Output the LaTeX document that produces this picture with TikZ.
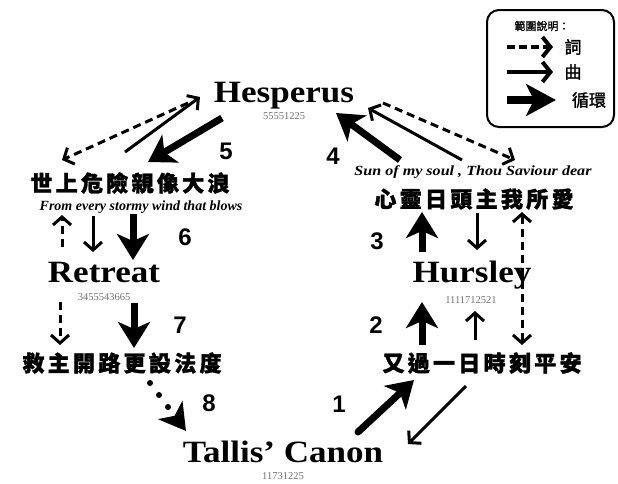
\documentclass[tikz,border=0pt]{standalone}
\usepackage{fontspec}
\setmainfont{Liberation Serif}
\newfontfamily\cjk{Noto Sans CJK TC}[FakeBold=1.5, LetterSpace=15]
\newfontfamily\cjkb{Noto Sans CJK TC}[FakeBold=1.5]
\newfontfamily\stepfont{Liberation Sans}
\usetikzlibrary{arrows.meta}
\newcommand{\widen}[1]{\scalebox{1.13}[1]{#1}}
\tikzset{
  x=1pt, y=-1pt,
  tunename/.style={font=\bfseries\fontsize{31}{33}\selectfont, anchor=base, inner sep=0pt},
  tunecode/.style={font=\fontsize{10.5}{11}\selectfont, text=black!55, inner sep=0pt},
  lyric/.style={font=\cjk\bfseries\fontsize{22}{24}\selectfont, inner sep=0pt},
  engline/.style={font=\bfseries\itshape\fontsize{14}{16}\selectfont, inner sep=0pt},
  stepno/.style={font=\stepfont\bfseries\fontsize{24}{26}\selectfont, inner sep=0pt},
  barb/.tip={Straight Barb[length=8pt, width=18pt]},
  cycle/.style={line width=7pt, -{Stealth[length=26pt, width=32pt, inset=7pt]}},
  tune/.style={line width=3pt, -barb},
  words/.style={line width=3pt, dash pattern=on 8pt off 5pt, -barb},
}
\begin{document}
\begin{tikzpicture}
\useasboundingbox (0,0) rectangle (618,483);

% hymn tunes
\node[tunename] (hes) at (284,102) {\widen{Hesperus}};
\node[tunecode] (hesn) at (284,116) {55551225};
\node[tunename] (ret) at (104,282) {\widen{Retreat}};
\node[tunecode] (retn) at (104,297) {3455543665};
\node[tunename] (hur) at (472,282) {\widen{Hursley}};
\node[tunecode] (hurn) at (471,300) {1111712521};
\node[tunename] (tal) at (283,462) {\widen{Tallis’ Canon}};
\node[tunecode] (taln) at (283,476) {11731225};

% lyric lines
\node[lyric] (l1) at (130,183) {世上危險親像大浪};
\node[engline] (e1) at (141,207) {From every stormy wind that blows};
\node[engline] (e2) at (473,172) {\scalebox{1.15}[1]{Sun of my soul , Thou Saviour dear}};
\node[lyric] (l2) at (474,199) {心靈日頭主我所愛};
\node[lyric] (l3) at (122,363) {救主開路更設法度};
\node[lyric] (l4) at (482,363) {又過一日時刻平安};

% anchors of the connectors
\coordinate (a1) at (188,103); \coordinate (a2) at (62,160);
\coordinate (b1) at (125,152); \coordinate (b2) at (200,97);
\coordinate (c1) at (222,118); \coordinate (c2) at (148,162);
\coordinate (d1) at (383,103); \coordinate (d2) at (515,160);
\coordinate (f1) at (462,160); \coordinate (f2) at (368,108);
\coordinate (g1) at (400,160); \coordinate (g2) at (336,113);
\coordinate (h1) at (62,247); \coordinate (h2) at (62,215);
\coordinate (i1) at (93,216); \coordinate (i2) at (93,252);
\coordinate (j1) at (133,214); \coordinate (j2) at (133,260);
\coordinate (k1) at (60,302); \coordinate (k2) at (60,345);
\coordinate (m1) at (134,303); \coordinate (m2) at (134,348);
\coordinate (n1) at (150,383); \coordinate (n2) at (186,431);
\coordinate (p1) at (358,432); \coordinate (p2) at (414,380);
\coordinate (q1) at (466,386); \coordinate (q2) at (408,444);
\coordinate (r1) at (422,345); \coordinate (r2) at (422,302);
\coordinate (s1) at (475,340); \coordinate (s2) at (475,311);
\coordinate (t1) at (522,212); \coordinate (t2) at (522,345);
\coordinate (u1) at (422,252); \coordinate (u2) at (422,212);
\coordinate (v1) at (477,213); \coordinate (v2) at (477,250);

% connectors
\draw[words] (a1) -- (a2);
\draw[tune] (b1) -- (b2);
\draw[cycle] (c1) -- (c2);
\draw[words] (d1) -- (d2);
\draw[tune] (f1) -- (f2);
\draw[cycle] (g1) -- (g2);
\draw[words] (h1) -- (h2);
\draw[tune] (i1) -- (i2);
\draw[cycle] (j1) -- (j2);
\draw[words] (k1) -- (k2);
\draw[cycle] (m1) -- (m2);
\draw[line width=6pt, line cap=round, dash pattern=on 0pt off 15pt,
      -{Stealth[length=26pt, width=30pt, inset=7pt]}] (n1) -- (n2);
\draw[cycle, line cap=round] (p1) -- (p2);
\draw[tune] (q1) -- (q2);
\draw[cycle] (r1) -- (r2);
\draw[tune] (s1) -- (s2);
\draw[words, barb-barb] (t1) -- (t2);
\draw[cycle] (u1) -- (u2);
\draw[tune] (v1) -- (v2);

% step numbers
\node[stepno] (s5) at (226,151) {5};
\node[stepno] (s4) at (333,156) {4};
\node[stepno] (s6) at (185,237) {6};
\node[stepno] (s3) at (377,241) {3};
\node[stepno] (s7) at (180,325) {7};
\node[stepno] (s2) at (376,325) {2};
\node[stepno] (s8) at (209,403) {8};
\node[stepno] (s1) at (339,404) {1};

% legend
\draw[line width=2pt, rounded corners=12pt] (487,10) rectangle (614,127);
\node[font=\cjkb\fontsize{11}{12}\selectfont, inner sep=0pt] (lgt) at (542,26) {範圍說明：};
\coordinate (w1) at (507,47); \coordinate (w2) at (553,47);
\coordinate (x1) at (507,72); \coordinate (x2) at (553,72);
\coordinate (y1) at (507,100); \coordinate (y2) at (556,100);
\draw[line width=4pt, dash pattern=on 8pt off 4pt, -{Straight Barb[length=8pt, width=20pt]}] (w1) -- (w2);
\draw[line width=4pt, -{Straight Barb[length=8pt, width=20pt]}] (x1) -- (x2);
\draw[line width=8pt, -{Stealth[length=30pt, width=32pt, inset=8pt]}] (y1) -- (y2);
\node[font=\cjkb\fontsize{17}{18}\selectfont, inner sep=0pt] (lw) at (573,47) {詞};
\node[font=\cjkb\fontsize{17}{18}\selectfont, inner sep=0pt] (lm) at (573,72) {曲};
\node[font=\cjkb\fontsize{17}{18}\selectfont, inner sep=0pt] (lc) at (589,100) {循環};
\end{tikzpicture}
\end{document}
